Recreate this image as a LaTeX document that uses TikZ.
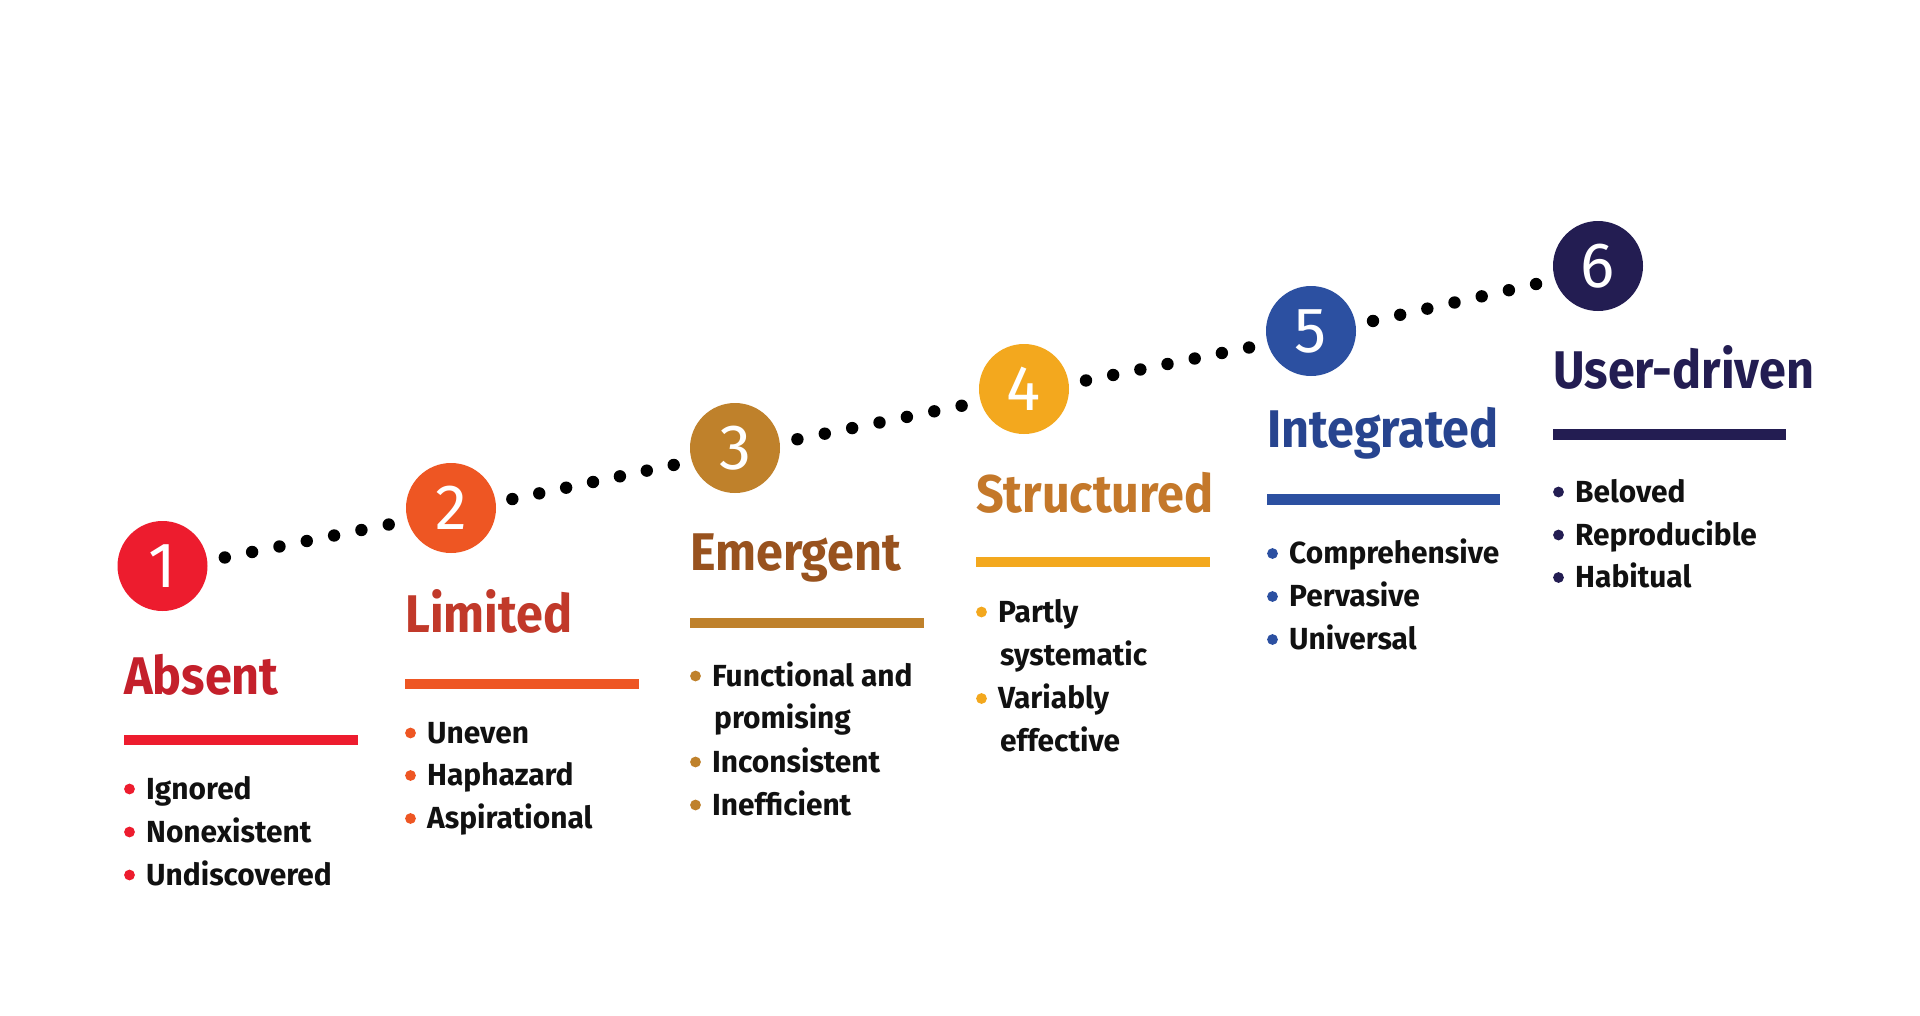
\documentclass[tikz,border=0pt]{standalone}
\usepackage{fontspec}
\setmainfont{Fira Sans}
\newfontfamily\titlefont{Fira Sans}[FakeStretch=0.915]
\newfontfamily\itemfont{Fira Sans}[FakeStretch=0.98]
\usetikzlibrary{calc}
\definecolor{cA}{HTML}{ED1C2E}\definecolor{tA}{HTML}{C4202B}
\definecolor{cB}{HTML}{EE5623}\definecolor{tB}{HTML}{C1392A}
\definecolor{cC}{HTML}{BF812B}\definecolor{tC}{HTML}{98521E}
\definecolor{cD}{HTML}{F3A81E}\definecolor{tD}{HTML}{C4782A}
\definecolor{cE}{HTML}{2C50A1}\definecolor{tE}{HTML}{27448F}
\definecolor{cF}{HTML}{231D52}\definecolor{tF}{HTML}{231D52}
\definecolor{ink}{HTML}{111111}
\tikzset{
  stage/.style={circle, fill=#1, minimum size=90pt, inner sep=0pt, text=white,
    font=\fontsize{64}{64}\selectfont},
  ttl/.style={anchor=base west, inner sep=0pt, text=#1,
    font=\titlefont\fontsize{53}{60}\selectfont\bfseries},
  itm/.style={anchor=base west, inner sep=0pt, text=ink,
    font=\itemfont\fontsize{30.5}{36}\selectfont\bfseries},
}
% \bulitem{name}{x of bar left}{baseline}{colour}{text}
\newcommand{\bulitem}[5]{%
  \fill[#4] (#2+5.5,#3-10) circle (5.4);
  \node[itm] (#1) at (#2+22,#3) {#5};}
\newcommand{\contitem}[4]{%
  \node[itm] (#1) at (#2+22,#3) {#4};}
\begin{document}
\begin{tikzpicture}[x=1pt,y=-1pt]
\useasboundingbox (0,0) rectangle (1920,1015);
\fill[white] (0,0) rectangle (1920,1015);
% stage circles
\node[stage=cA] (c1) at (162.5,566) {1};
\node[stage=cB] (c2) at (451,508) {2};
\node[stage=cC] (c3) at (735,448) {3};
\node[stage=cD] (c4) at (1024,389) {4};
\node[stage=cE] (c5) at (1311,331) {5};
\node[stage=cF] (c6) at (1598,266) {6};
% dotted connectors
\foreach \a/\b in {c1/c2,c2/c3,c3/c4,c4/c5,c5/c6}{
  \foreach \k in {0,...,6}{
    \fill[black] ($(\a)!{0.216+\k*0.0947}!(\b)+(0,4)$) circle (6.2);
  }
}
% column 1
\node[ttl=tA] (t1) at (124,694) {Absent};
\fill[cA] (124,734.7) rectangle (358,745.3);
\bulitem{i11}{124}{799}{cA}{Ignored}
\bulitem{i12}{124}{842}{cA}{Nonexistent}
\bulitem{i13}{124}{885}{cA}{Undiscovered}
% column 2
\node[ttl=tB] (t2) at (405,632) {Limited};
\fill[cB] (405,678.7) rectangle (639,689.3);
\bulitem{i21}{405}{743}{cB}{Uneven}
\bulitem{i22}{405}{785.5}{cB}{Haphazard}
\bulitem{i23}{405}{828.5}{cB}{Aspirational}
% column 3
\node[ttl=tC] (t3) at (690,570) {Emergent};
\fill[cC] (690,617.7) rectangle (924,628.3);
\bulitem{i31}{690}{686}{cC}{Functional and}
\contitem{i32}{692}{728.5}{promising}
\bulitem{i33}{690}{772}{cC}{Inconsistent}
\bulitem{i34}{690}{815}{cC}{Inefficient}
% column 4
\node[ttl=tD] (t4) at (976,512) {Structured};
\fill[cD] (976,556.7) rectangle (1210,567.3);
\bulitem{i41}{976}{622}{cD}{Partly}
\contitem{i42}{978}{665}{systematic}
\bulitem{i43}{976}{708.5}{cD}{Variably}
\contitem{i44}{978}{751}{effective}
% column 5
\node[ttl=tE] (t5) at (1267,447) {Integrated};
\fill[cE] (1267,494) rectangle (1500,504.6);
\bulitem{i51}{1267}{563.5}{cE}{Comprehensive}
\bulitem{i52}{1267}{606.5}{cE}{Pervasive}
\bulitem{i53}{1267}{649.5}{cE}{Universal}
% column 6
\node[ttl=tF] (t6) at (1553,388.5) {User-driven};
\fill[cF] (1553,429.4) rectangle (1786,440);
\bulitem{i61}{1553}{502}{cF}{Beloved}
\bulitem{i62}{1553}{545}{cF}{Reproducible}
\bulitem{i63}{1553}{587.5}{cF}{Habitual}
\end{tikzpicture}
\end{document}
